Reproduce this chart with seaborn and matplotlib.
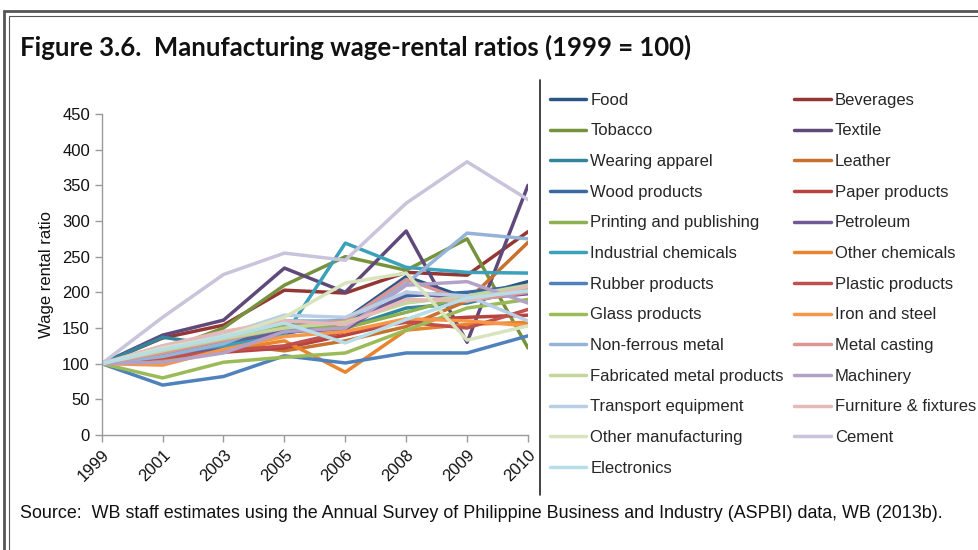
import pandas as pd
import matplotlib
matplotlib.use("Agg")
import matplotlib.pyplot as plt
from matplotlib.patches import Rectangle
from matplotlib.lines import Line2D
import seaborn as sns

years = ["1999", "2001", "2003", "2005", "2006", "2008", "2009", "2010"]

industries = [
    "Food", "Beverages", "Tobacco", "Textile", "Wearing apparel", "Leather",
    "Wood products", "Paper products", "Printing and publishing", "Petroleum",
    "Industrial chemicals", "Other chemicals", "Rubber products",
    "Plastic products", "Glass products", "Iron and steel",
    "Non-ferrous metal", "Metal casting", "Fabricated metal products",
    "Machinery", "Transport equipment", "Furniture & fixtures",
    "Other manufacturing", "Cement", "Electronics",
]

food          = [100, 112, 128, 152, 162, 222, 192, 215]
beverages     = [100, 136, 154, 203, 199, 228, 224, 285]
tobacco       = [100, 118, 150, 210, 250, 231, 275, 122]
textile       = [100, 140, 161, 234, 200, 286, 130, 350]
wearing_app   = [100, 137, 125, 148, 150, 178, 185, 205]
leather       = [100, 108, 128, 118, 132, 152, 188, 270]
wood          = [100, 105, 122, 142, 158, 195, 200, 210]
paper         = [100, 104, 116, 122, 140, 160, 165, 168]
printing      = [100, 115, 133, 155, 150, 172, 195, 205]
petroleum     = [100, 110, 125, 145, 148, 200, 190, 198]
ind_chem      = [100, 115, 125, 139, 269, 235, 228, 227]
other_chem    = [100, 105, 118, 132, 88, 147, 155, 158]
rubber        = [100, 70, 82, 111, 101, 115, 115, 139]
plastic       = [100, 108, 118, 125, 145, 158, 150, 176]
glass         = [100, 80, 102, 109, 115, 147, 178, 190]
iron_steel    = [100, 98, 120, 138, 145, 163, 160, 153]
nonferrous    = [100, 110, 128, 160, 160, 212, 283, 275]
metal_casting = [100, 115, 133, 150, 160, 218, 188, 200]
fabricated    = [100, 118, 135, 150, 158, 185, 195, 210]
machinery     = [100, 102, 115, 145, 150, 210, 215, 185]
transport     = [100, 125, 140, 168, 165, 200, 195, 160]
furniture     = [100, 125, 145, 160, 155, 190, 188, 208]
other_mfg     = [100, 122, 138, 165, 213, 227, 133, 153]
cement        = [100, 165, 225, 255, 245, 325, 383, 330]
electronics   = [100, 120, 137, 157, 129, 162, 192, 202]

series = [
    food, beverages, tobacco, textile, wearing_app, leather, wood, paper,
    printing, petroleum, ind_chem, other_chem, rubber, plastic, glass,
    iron_steel, nonferrous, metal_casting, fabricated, machinery, transport,
    furniture, other_mfg, cement, electronics,
]

colors = [
    "#2A5586", "#943634", "#76923C", "#5F497A", "#31859C", "#C8702E",
    "#3A68A0", "#B8423F", "#8DB052", "#705A96", "#3BA0BA", "#E8842E",
    "#4F81BD", "#C0504D", "#9BBB59", "#F79646", "#95B3D7", "#D99694",
    "#C3D69B", "#B3A2C7", "#B9CDE5", "#E6B9B8", "#D7E4BD", "#C9C3DB",
    "#B7DEE8",
]

rows = []
for name, vals in zip(industries, series):
    for yr, v in zip(years, vals):
        rows.append({"year": yr, "industry": name, "ratio": v})
df = pd.DataFrame(rows)

sns.set_theme(style="white")
plt.rcParams["font.family"] = ["Liberation Sans", "DejaVu Sans"]

W, H = 979, 550
fig = plt.figure(figsize=(W / 100, H / 100), dpi=100)
ax = fig.add_axes([101.7 / W, 1 - 435 / H, (528 - 101.7) / W, (435 - 114) / H])

sns.lineplot(
    data=df, x="year", y="ratio", hue="industry",
    hue_order=industries, palette=dict(zip(industries, colors)),
    linewidth=2.5, sort=False, ax=ax,
)

ax.set_xlim(0, len(years) - 1)
ax.set_ylim(0, 450)
ax.set_yticks(range(0, 451, 50))
ax.set_xlabel("")
ax.set_ylabel("Wage rental ratio", fontsize=12, color="#111111", labelpad=6)
for s in ["top", "right"]:
    ax.spines[s].set_visible(False)
for s in ["left", "bottom"]:
    ax.spines[s].set_color("#9a9a9a")
    ax.spines[s].set_linewidth(1.0)
ax.tick_params(axis="both", which="both", direction="out", length=5,
               width=1.0, color="#9a9a9a", labelsize=12, labelcolor="#111111",
               left=True, bottom=True)
plt.setp(ax.get_xticklabels(), rotation=45, ha="right", rotation_mode="anchor")

# legend filled row by row, as in the original
handles, labels = ax.get_legend_handles_labels()
ax.get_legend().remove()
handles = handles[0::2] + handles[1::2]
labels = labels[0::2] + labels[1::2]
fig.legend(
    handles, labels, ncol=2, loc="upper left",
    bbox_to_anchor=(543 / W, 1 - 86 / H), frameon=False,
    fontsize=12, handlelength=2.2, handletextpad=0.25,
    labelspacing=0.94, columnspacing=0.6, borderaxespad=0,
)

# separator line between plot and legend
fig.add_artist(Line2D([540 / W, 540 / W], [1 - 80 / H, 1 - 495 / H],
                      transform=fig.transFigure, color="#222222", lw=1.2))

# double border around the figure
fig.add_artist(Rectangle((4 / W, -0.05), 1.1, (H - 11) / H + 0.05,
                         transform=fig.transFigure, fill=False,
                         edgecolor="#555555", lw=2.0))
fig.add_artist(Rectangle((9 / W, -0.05), 1.1, (H - 16) / H + 0.05,
                         transform=fig.transFigure, fill=False,
                         edgecolor="#555555", lw=0.8))

fig.text(20 / W, 1 - 47 / H,
         "Figure 3.6.  Manufacturing wage-rental ratios (1999 = 100)",
         fontsize=18.5, fontweight="bold", family=["Lato", "DejaVu Sans"],
         va="center", ha="left", color="#111111")

fig.text(20 / W, 1 - 513 / H,
         "Source:  WB staff estimates using the Annual Survey of Philippine "
         "Business and Industry (ASPBI) data, WB (2013b).",
         fontsize=12.9, family=["Liberation Sans", "DejaVu Sans"],
         va="center", ha="left", color="#111111")

fig.savefig("out.png", dpi=100)
